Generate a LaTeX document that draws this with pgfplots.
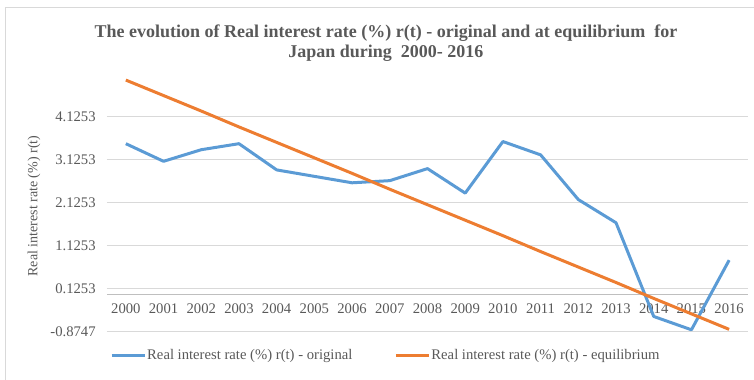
\documentclass[border=0pt]{standalone}
\usepackage{fontspec}
\setmainfont{Liberation Serif}
\usepackage{pgfplots}
\pgfplotsset{compat=1.18}
\definecolor{seriesA}{HTML}{5B9BD5}
\definecolor{seriesB}{HTML}{ED7D31}
\definecolor{txt}{HTML}{595959}
\definecolor{gridc}{HTML}{D9D9D9}
\definecolor{axisc}{HTML}{BFBFBF}

\begin{document}
\begin{tikzpicture}
% page frame in pixel units of the 754x379 reference
\begin{scope}[shift={(-80.25pt,248.775pt)}, x=0.75pt, y=-0.75pt]
  \useasboundingbox (0,0) rectangle (754,379);
  \draw[gridc, line width=0.75pt] (6,400) -- (6,8) -- (760,8);
  \node[align=center, text=txt, font=\bfseries\fontsize{13.5}{15.5}\selectfont] at (386,43)
    {The evolution of Real interest rate (\%) r(t) - original and at equilibrium\ \ for\\
     Japan during\ \ 2000- 2016};
\end{scope}

\begin{axis}[
    at={(0,0)}, anchor=south west,
    scale only axis,
    width=480.75pt, height=193.4pt,
    xmin=1999.5, xmax=2016.5,
    ymin=-0.8747, ymax=5.1253,
    xtick={2000,...,2016},
    ytick={-0.8747,0.1253,1.1253,2.1253,3.1253,4.1253},
    yticklabels={-0.8747,0.1253,1.1253,2.1253,3.1253,4.1253},
    x tick label style={/pgf/number format/1000 sep={}, yshift=-4pt},
    y tick label style={xshift=-5pt},
    /pgf/number format/assume math mode=true,
    tick label style={text=txt, font=\fontsize{11}{13}\selectfont},
    major tick length=0pt,
    axis x line*=middle,
    axis y line*=left,
    x axis line style={draw=axisc, line width=0.75pt, -},
    y axis line style={draw=none},
    ymajorgrids=true,
    grid style={gridc, line width=0.75pt},
    ylabel={Real interest rate (\%) r(t)},
    ylabel style={text=txt, font=\fontsize{10.5}{12}\selectfont,
        at={(axis description cs:-0.114,0.487)}, anchor=center, rotate=0},
    legend columns=2,
    legend style={at={(0.434,0)}, anchor=center, yshift=-18pt, draw=none,
        fill=none, text=txt, font=\fontsize{11}{13}\selectfont,
        /tikz/every even column/.append style={column sep=31pt},
        nodes={inner sep=0.5pt}},
    legend image code/.code={\draw[#1] (0pt,0pt) -- (25pt,0pt);},
]
\addplot[seriesA, line width=2.25pt, line join=round] coordinates {
    (2000,3.50) (2001,3.09) (2002,3.36) (2003,3.50) (2004,2.89)
    (2005,2.74) (2006,2.59) (2007,2.64) (2008,2.92) (2009,2.35)
    (2010,3.55) (2011,3.24) (2012,2.20) (2013,1.66) (2014,-0.52)
    (2015,-0.83) (2016,0.79)
};
\addlegendentry{Real interest rate (\%) r(t) - original}
\addplot[seriesB, line width=2.25pt, line join=round] coordinates {
    (2000,4.98) (2001,4.62) (2002,4.26) (2003,3.89) (2004,3.53)
    (2005,3.17) (2006,2.81) (2007,2.44) (2008,2.08) (2009,1.72)
    (2010,1.36) (2011,0.99) (2012,0.63) (2013,0.27) (2014,-0.10)
    (2015,-0.46) (2016,-0.82)
};
\addlegendentry{Real interest rate (\%) r(t) - equilibrium}
\end{axis}
\end{tikzpicture}
\end{document}
